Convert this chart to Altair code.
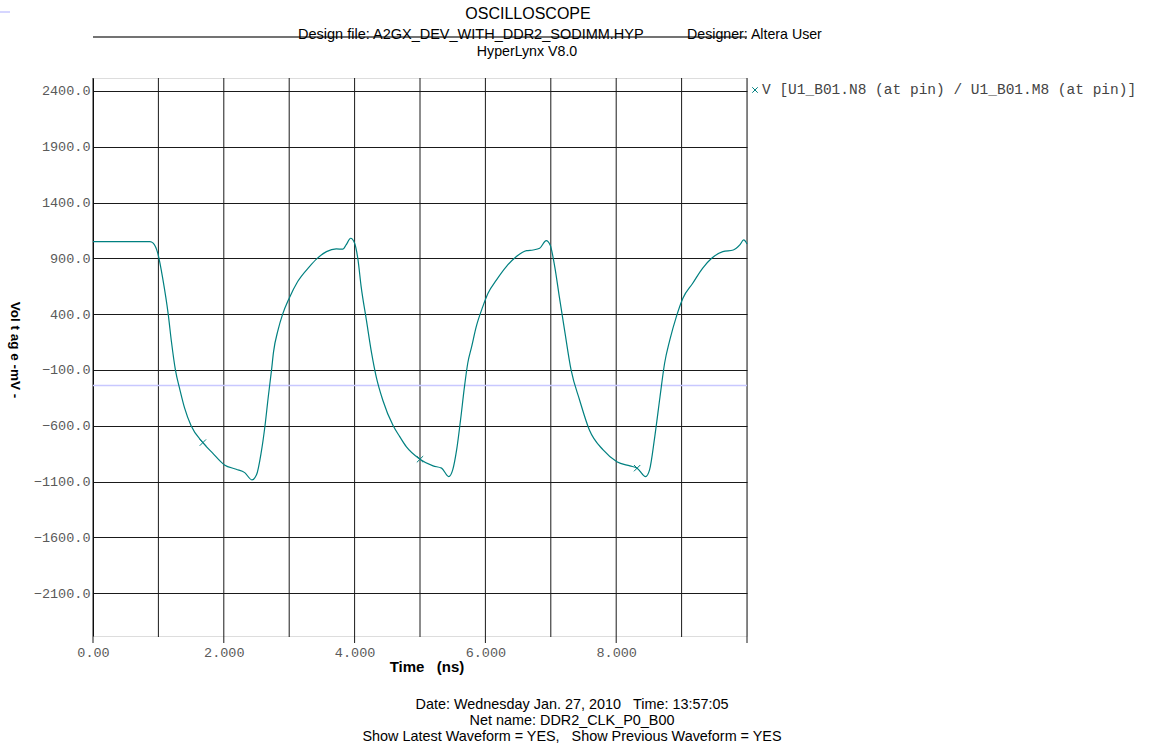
import altair as alt
import pandas as pd

# waveform (ns, mV)
time_ns = [0, 0.87, 0.92, 0.99, 1.07, 1.15, 1.20, 1.26, 1.33, 1.40, 1.50, 1.68, 1.83, 2.01, 2.19, 2.32,
           2.43, 2.50, 2.57, 2.63, 2.68, 2.73, 2.76, 2.83, 2.90, 3.00, 3.13, 3.31, 3.42, 3.57, 3.72, 3.82,
           3.87, 3.94, 4.00, 4.05, 4.10, 4.18, 4.26, 4.33, 4.43, 4.59, 4.69, 4.79, 5.00, 5.20, 5.33, 5.44,
           5.50, 5.56, 5.62, 5.68, 5.73, 5.79, 5.86, 5.96, 6.04, 6.17, 6.32, 6.47, 6.63, 6.73, 6.83, 6.93,
           6.99, 7.06, 7.13, 7.21, 7.31, 7.44, 7.59, 7.80, 8.01, 8.21, 8.32, 8.45, 8.51, 8.59, 8.67, 8.74,
           8.82, 8.92, 9.02, 9.17, 9.32, 9.46, 9.63, 9.79, 9.89, 9.95, 10.0]
voltage_mv = [1050, 1050, 1036, 946, 707, 400, 150, -100, -280, -440, -600, -751, -846, -951, -990, -1020,
              -1085, -1040, -846, -600, -340, -100, 60, 259, 400, 543, 692, 826, 895, 960, 984, 982,
              1020, 1080, 1035, 895, 647, 348, 50, -160, -369, -600, -697, -787, -900, -960, -980, -1056,
              -996, -817, -548, -250, -40, 109, 288, 467, 587, 707, 826, 915, 969, 975, 990, 1059,
              1020, 826, 557, 259, -100, -369, -638, -817, -922, -960, -980, -1056, -996, -697, -340, -40,
              169, 378, 543, 677, 811, 901, 960, 975, 1020, 1065, 1029]

marker_t = [1.68, 5.00, 8.32]
marker_v = [-751, -900, -980]

threshold_mv = [-240]

y_ticks = [-2100, -1600, -1100, -600, -100, 400, 900, 1400, 1900, 2400]
x_grid_major = [0, 2, 4, 6, 8, 10]
x_grid_minor = [1, 3, 5, 7, 9]
x_labels = [0, 2, 4, 6, 8]

title_main = "OSCILLOSCOPE"
title_design = "Design file: A2GX_DEV_WITH_DDR2_SODIMM.HYP"
title_designer = "Designer: Altera User"
title_tool = "HyperLynx V8.0"
legend_label = "V [U1_B01.N8 (at pin) / U1_B01.M8 (at pin)]"
footer = ["Date: Wednesday Jan. 27, 2010\u00a0\u00a0\u00a0Time: 13:57:05",
          "Net name: DDR2_CLK_P0_B00",
          "Show Latest Waveform = YES,\u00a0\u00a0\u00a0Show Previous Waveform = YES"]

W, H = 654, 558
TEAL = "#008080"
GRID = "#1a1a1a"
MONO = "Liberation Mono"
SANS = "Liberation Sans"

xs = alt.Scale(domain=[0, 10], nice=False, zero=False)
ys = alt.Scale(domain=[-2484, 2516], nice=False, zero=False)

wave = pd.DataFrame({"t": time_ns, "v": voltage_mv})
marks = pd.DataFrame({"t": marker_t, "v": marker_v})

base_x_axis = alt.Axis(values=x_labels, labelExpr="datum.value == 0 ? '0.00' : format(datum.value, '.3f')",
                       labelFont=MONO, labelFontSize=13.5, labelColor="#5a5a5a", ticks=False,
                       domain=False, grid=False, labelPadding=9, labelFlush=False, title=None)
base_y_axis = alt.Axis(values=y_ticks, format=".1f", labelFont=MONO, labelFontSize=13.5,
                       labelColor="#5a5a5a", ticks=False, domain=True, domainColor="#000000",
                       grid=True, gridColor=GRID, gridWidth=1, labelPadding=3, title=None)

line = alt.Chart(wave).mark_line(color=TEAL, strokeWidth=1.2, interpolate="monotone").encode(
    x=alt.X("t:Q", scale=xs, axis=base_x_axis),
    y=alt.Y("v:Q", scale=ys, axis=base_y_axis),
)

grid_major = alt.Chart(pd.DataFrame({"t": x_grid_major})).mark_rule(color=GRID, strokeWidth=1).encode(
    x=alt.X("t:Q", scale=xs), y=alt.value(0), y2=alt.value(H + 7))
grid_minor = alt.Chart(pd.DataFrame({"t": x_grid_minor})).mark_rule(color=GRID, strokeWidth=1).encode(
    x=alt.X("t:Q", scale=xs), y=alt.value(0), y2=alt.value(H + 1))

thresh = alt.Chart(pd.DataFrame({"v": threshold_mv})).mark_rule(color="#c8c8ff", strokeWidth=1.5).encode(
    y=alt.Y("v:Q", scale=ys), x=alt.value(0), x2=alt.value(W))

cross_path = "M-1,-1L1,1M-1,1L1,-1"
markers = alt.Chart(marks).mark_point(shape=cross_path, size=40, filled=False, color=TEAL,
                                      strokeWidth=1, opacity=1).encode(
    x=alt.X("t:Q", scale=xs), y=alt.Y("v:Q", scale=ys))

one = pd.DataFrame({"a": [0]})


def txt(s, x, y, size=12, font=SANS, weight="normal", align="center", color="#000000", angle=0, base="middle"):
    return alt.Chart(one).mark_text(text=s, font=font, fontSize=size, fontWeight=weight, align=align,
                                    baseline=base, color=color, angle=angle).encode(
        x=alt.value(x), y=alt.value(y))


OX, OY = 93, 78
texts = [
    txt(title_main, 528 - OX, 14 - OY, size=16),
    txt(title_design, 298 - OX, 35 - OY, size=14.5, align="left"),
    txt(title_designer, 687 - OX, 35 - OY, size=14.2, align="left"),
    txt(title_tool, 527 - OX, 52 - OY, size=14.2),
    txt("Time\u00a0\u00a0\u00a0(ns)", 427 - OX, 667 - OY, size=15, weight="bold"),
    txt("Vol t ag e -mV -", 15 - OX, 350 - OY, size=13.5, weight="bold", angle=90),
    txt(legend_label, 762 - OX, 90 - OY, size=14.5, font=MONO, align="left", color="#444444"),
    txt(footer[0], 572 - OX, 705 - OY, size=14.4),
    txt(footer[1], 572 - OX, 721 - OY, size=14.4),
    txt(footer[2], 572 - OX, 737 - OY, size=14.4),
]

header_rule = alt.Chart(one).mark_rule(color="#444444", strokeWidth=1.3).encode(
    x=alt.value(0), x2=alt.value(W), y=alt.value(37 - OY))
corner_rule = alt.Chart(one).mark_rule(color="#c8c8ff", strokeWidth=1.5).encode(
    x=alt.value(-OX), x2=alt.value(-OX + 10), y=alt.value(12 - OY))

legend_mark = alt.Chart(one).mark_point(shape=cross_path, size=30, filled=False, color=TEAL,
                                        strokeWidth=1, opacity=1).encode(
    x=alt.value(755 - OX), y=alt.value(90 - OY))

chart = alt.layer(grid_major, grid_minor, thresh, line, markers, header_rule, corner_rule,
                  legend_mark, *texts).properties(
    width=W, height=H,
    autosize=alt.AutoSizeParams(type="none"),
    padding={"left": OX, "top": OY, "right": 1155 - OX - W, "bottom": 753 - OY - H},
).configure_view(stroke=None).configure(background="white")

chart.save("out.html", embed_options={"renderer": "svg", "actions": False})
